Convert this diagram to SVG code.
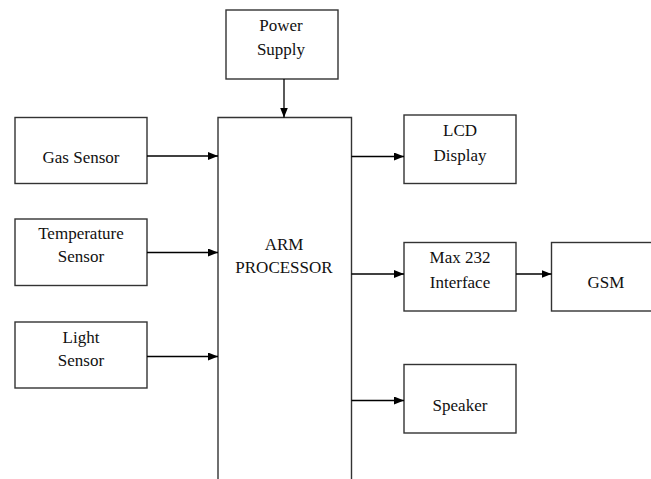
<svg xmlns="http://www.w3.org/2000/svg" width="651" height="479" viewBox="0 0 651 479">
<style>
.box{fill:#fff;stroke:#333;stroke-width:1.4}
.c{stroke:#000;stroke-width:1.3;fill:none;marker-end:url(#ah)}
</style>
<defs>
<marker id="ah" markerWidth="10" markerHeight="8" refX="10" refY="4" orient="auto" markerUnits="userSpaceOnUse">
<path d="M0,0 L10,4 L0,8 Z" fill="#000"/>
</marker>
</defs>
<rect width="651" height="479" fill="#fff"/>
<g font-family="Liberation Serif, Times New Roman, serif" font-size="17" fill="#111" text-anchor="middle">
<g id="power"><rect class="box" x="226" y="10" width="112" height="69"/><text x="281" y="31">Power</text><text x="281" y="55">Supply</text></g>
<g id="arm"><path class="box" d="M218,485 L218,117.5 L351.5,117.5 L351.5,485"/><text x="284" y="250">ARM</text><text x="284" y="273">PROCESSOR</text></g>
<g id="gas"><rect class="box" x="15" y="117.5" width="132" height="66"/><text x="81" y="163">Gas Sensor</text></g>
<g id="temp"><rect class="box" x="15" y="219" width="132" height="66.5"/><text x="81" y="239">Temperature</text><text x="81" y="262">Sensor</text></g>
<g id="light"><rect class="box" x="15" y="322" width="132" height="66"/><text x="81" y="343">Light</text><text x="81" y="366">Sensor</text></g>
<g id="lcd"><rect class="box" x="404" y="115" width="112" height="68.5"/><text x="460" y="136">LCD</text><text x="460" y="161">Display</text></g>
<g id="max232"><rect class="box" x="404" y="242.5" width="112" height="68.5"/><text x="460" y="263">Max 232</text><text x="460" y="288">Interface</text></g>
<g id="gsm"><rect class="box" x="551.5" y="242.5" width="110" height="68.5"/><text x="606" y="288">GSM</text></g>
<g id="speaker"><rect class="box" x="404" y="364.5" width="112" height="68.5"/><text x="460" y="411">Speaker</text></g>
</g>
<g id="connectors">
<line class="c" x1="284" y1="79" x2="284" y2="117.5"/>
<line class="c" x1="147" y1="156" x2="218" y2="156"/>
<line class="c" x1="147" y1="252.5" x2="218" y2="252.5"/>
<line class="c" x1="147" y1="356.5" x2="218" y2="356.5"/>
<line class="c" x1="351.5" y1="156.5" x2="404" y2="156.5"/>
<line class="c" x1="351.5" y1="274" x2="404" y2="274"/>
<line class="c" x1="516" y1="274" x2="551.5" y2="274"/>
<line class="c" x1="351.5" y1="400.5" x2="404" y2="400.5"/>
</g>
</svg>
